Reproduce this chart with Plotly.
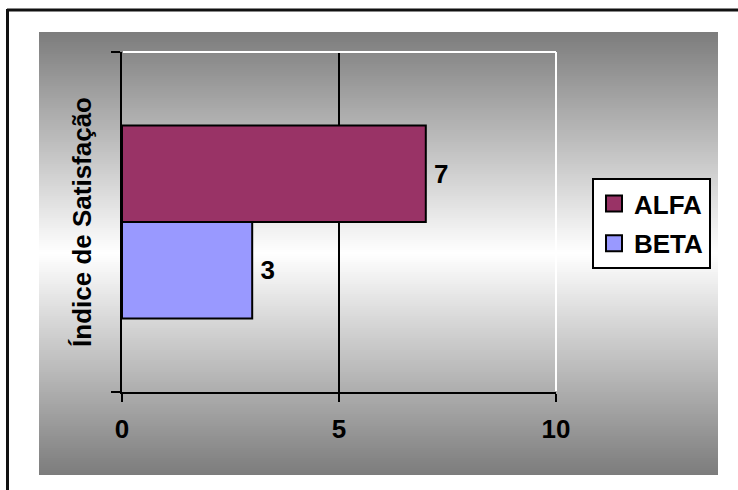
import plotly.graph_objects as go

# ---- data ----
categories = ['Índice de Satisfação']
series_names = ['ALFA', 'BETA']
alfa_values = [7]
beta_values = [3]
x_tick_vals = [0, 5, 10]
x_tick_text = ['0', '5', '10']
axis_title = 'Índice de Satisfação'
colors = {'ALFA': '#993366', 'BETA': '#9999FF'}

# ---- layout geometry (pixels) ----
W, H = 738, 490
L, R, T, B = 122, 556, 52, 392


def px(x):
    return (x - L) / (R - L)


def py(y):
    return (B - y) / (B - T)


FONT = 'Liberation Sans, Arial, sans-serif'
bold = dict(family=FONT, size=26, color='black', weight=700)

fig = go.Figure()
# BETA first so it sits below ALFA in a horizontal grouped bar
fig.add_trace(go.Bar(
    y=categories, x=beta_values, name=series_names[1], orientation='h',
    marker=dict(color=colors['BETA'], line=dict(color='black', width=2)),
    texttemplate='\u2009%{x}', textposition='outside', textfont=bold,
    cliponaxis=False, showlegend=False, hoverinfo='skip'))
fig.add_trace(go.Bar(
    y=categories, x=alfa_values, name=series_names[0], orientation='h',
    marker=dict(color=colors['ALFA'], line=dict(color='black', width=2)),
    texttemplate='\u2009%{x}', textposition='outside', textfont=bold,
    cliponaxis=False, showlegend=False, hoverinfo='skip'))
# legend entries (square swatches)
for name in series_names:
    fig.add_trace(go.Scatter(
        x=[None], y=[None], mode='markers', name=name,
        marker=dict(symbol='square', size=16, color=colors[name],
                    line=dict(color='black', width=2)),
        legendgroup=name, hoverinfo='skip'))

shapes = []
# vertical gradient background (gray - white - gray)
gy0, gy1 = 32, 475
gx0, gx1 = 39, 718
mid = (gy0 + gy1) / 2
half = (gy1 - gy0) / 2
step = 2
y = gy0
while y < gy1:
    yc = y + step / 2
    t = min(1.0, abs(yc - mid) / half)
    v = int(round(255 - (255 - 124) * t))
    col = f'rgb({v},{v},{v})'
    shapes.append(dict(type='rect', xref='paper', yref='paper', layer='below',
                       x0=px(gx0), x1=px(gx1), y0=py(y), y1=py(min(y + step + 0.6, gy1)),
                       fillcolor=col, line=dict(width=0)))
    y += step

# outer frame (top and left lines)
shapes.append(dict(type='line', xref='paper', yref='paper', layer='above',
                   x0=px(7), x1=px(760), y0=py(10), y1=py(10),
                   line=dict(color='#111111', width=3)))
shapes.append(dict(type='line', xref='paper', yref='paper', layer='above',
                   x0=px(7.5), x1=px(7.5), y0=py(9), y1=py(520),
                   line=dict(color='#111111', width=3)))
# white top / right edge of plot area
shapes.append(dict(type='line', xref='paper', yref='paper', layer='above',
                   x0=px(123), x1=1, y0=1, y1=1, line=dict(color='white', width=2)))
shapes.append(dict(type='line', xref='paper', yref='paper', layer='above',
                   x0=1, x1=1, y0=py(391), y1=1, line=dict(color='white', width=2)))

fig.update_layout(
    width=W, height=H,
    margin=dict(l=L, r=W - R, t=T, b=H - B, pad=0),
    paper_bgcolor='white', plot_bgcolor='#C0C0C0',
    barmode='group', bargap=0.432, bargroupgap=0,
    font=dict(family=FONT, size=26, color='black'),
    showlegend=True,
    legend=dict(x=px(592), y=py(178), xanchor='left', yanchor='top',
                bgcolor='white', bordercolor='black', borderwidth=2,
                font=bold, traceorder='grouped', tracegroupgap=3,
                itemwidth=30),
    shapes=shapes,
    xaxis=dict(range=[0, 10], tickvals=x_tick_vals, ticktext=x_tick_text,
               showgrid=True, gridcolor='black', gridwidth=2,
               zeroline=False, showline=True, linecolor='black', linewidth=2,
               ticks='outside', ticklen=8, tickwidth=2, tickcolor='black',
               tickfont=bold, ticklabelstandoff=5, fixedrange=True),
    yaxis=dict(type='category', tickson='boundaries', showticklabels=False,
               showgrid=False, zeroline=False, showline=True,
               linecolor='black', linewidth=2,
               ticks='outside', ticklen=9, tickwidth=2, tickcolor='black',
               title=dict(text=axis_title, font=bold, standoff=21),
               fixedrange=True),
)

fig.write_html('out.html')
